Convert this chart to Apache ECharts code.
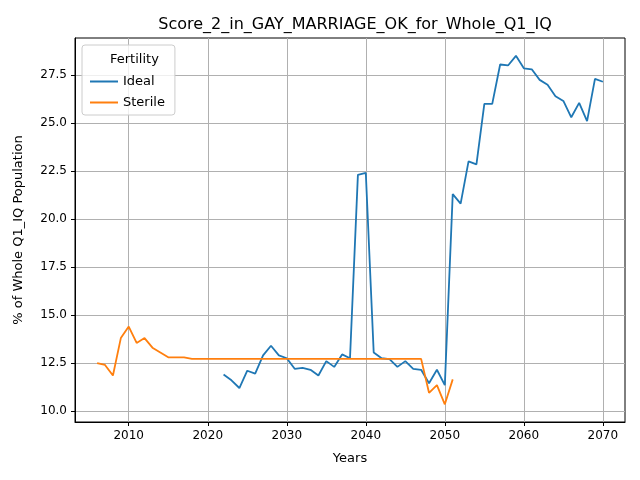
<!DOCTYPE html>
<html><head><meta charset="utf-8">
<script src="https://cdn.jsdelivr.net/npm/echarts@6/dist/echarts.min.js"></script>
<style>html,body{margin:0;background:#fff}#c{width:640px;height:480px}</style>
</head><body><div id="c"></div>
<script>
const sterileYears = [];
for (let y = 2006; y <= 2051; y++) sterileYears.push(y);
const sterileVals = [12.5, 12.4, 11.85, 13.8, 14.4, 13.55, 13.8, 13.3, 13.05, 12.8, 12.8, 12.8,
  12.72, 12.72, 12.72, 12.72, 12.72, 12.72, 12.72, 12.72, 12.72, 12.72, 12.72, 12.72, 12.72, 12.72,
  12.72, 12.72, 12.72, 12.72, 12.72, 12.72, 12.72, 12.72, 12.72, 12.72, 12.72, 12.72, 12.72, 12.72,
  12.72, 12.72, 10.95, 11.35, 10.35, 11.65];
const idealYears = [];
for (let y = 2022; y <= 2070; y++) idealYears.push(y);
const idealVals = [11.9, 11.6, 11.2, 12.1, 11.95, 12.9, 13.4, 12.9, 12.75, 12.2, 12.25, 12.15, 11.85,
  12.6, 12.3, 12.95, 12.75, 22.3, 22.4, 13.05, 12.75, 12.7, 12.3, 12.6, 12.2, 12.15, 11.45, 12.15,
  11.35, 21.3, 20.8, 23.0, 22.85, 26.0, 26.0, 28.05, 28.0, 28.5, 27.85, 27.8, 27.25, 27.0, 26.4,
  26.15, 25.3, 26.05, 25.1, 27.3, 27.15];
const xTicks = [2010, 2020, 2030, 2040, 2050, 2060, 2070];
const yTicks = [10, 12.5, 15, 17.5, 20, 22.5, 25, 27.5];

const zip = (xs, vs) => xs.map((x, i) => [x, vs[i]]);
const chart = echarts.init(document.getElementById('c'));
const grid = '#b0b0b0';
chart.setOption({
  animation: false,
  textStyle: { fontFamily: 'DejaVu Sans' },
  title: { text: 'Score_2_in_GAY_MARRIAGE_OK_for_Whole_Q1_IQ', left: 350, top: 12, textAlign: 'center',
    textStyle: { fontSize: 16, fontWeight: 'normal', color: '#000' } },
  grid: { left: 75, right: 15, top: 38, bottom: 58, show: true, borderColor: '#000', borderWidth: 1 },
  legend: {
    left: 82, top: 45, orient: 'vertical', itemWidth: 28, itemHeight: 2, itemGap: 8,
    padding: [30, 10, 6, 8], borderColor: '#ccc', borderWidth: 1, borderRadius: 3,
    backgroundColor: 'rgba(255,255,255,0.8)',
    textStyle: { fontSize: 13, color: '#000' },
    data: [{ name: 'Ideal', icon: 'rect' }, { name: 'Sterile', icon: 'rect' }]
  },
  graphic: [{ type: 'text', left: 110, top: 53, z: 100, zlevel: 1,
    style: { text: 'Fertility', fontSize: 13, fill: '#000', fontFamily: 'DejaVu Sans' } }],
  xAxis: {
    type: 'value', min: 2003.2, max: 2072.8, name: 'Years', nameLocation: 'middle', nameGap: 30,
    nameTextStyle: { fontSize: 13, color: '#000' },
    axisLine: { lineStyle: { color: '#000' } },
    axisTick: { customValues: xTicks, length: 4, lineStyle: { color: '#000' } },
    axisLabel: { customValues: xTicks, color: '#000', fontSize: 12, formatter: v => String(v) },
    splitLine: { show: true, lineStyle: { color: grid } }
  },
  yAxis: {
    type: 'value', min: 9.43, max: 29.43, name: '% of Whole Q1_IQ Population', nameLocation: 'middle', nameGap: 50,
    nameTextStyle: { fontSize: 13, color: '#000' },
    axisLine: { show: true, lineStyle: { color: '#000' } },
    axisTick: { show: true, customValues: yTicks, length: 4, lineStyle: { color: '#000' } },
    axisLabel: { customValues: yTicks, color: '#000', fontSize: 12, formatter: v => v.toFixed(1) },
    splitLine: { show: true, lineStyle: { color: grid } }
  },
  series: [
    { name: 'Ideal', type: 'line', data: zip(idealYears, idealVals), showSymbol: false, color: '#1f77b4', lineStyle: { width: 1.8 } },
    { name: 'Sterile', type: 'line', data: zip(sterileYears, sterileVals), showSymbol: false, color: '#ff7f0e', lineStyle: { width: 1.8 } }
  ]
});
</script></body></html>
